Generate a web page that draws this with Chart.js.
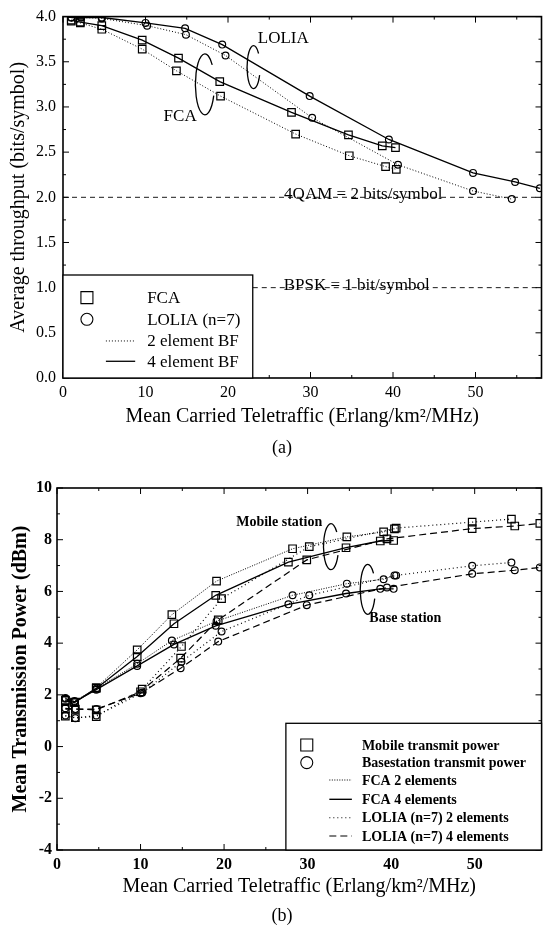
<!DOCTYPE html>
<html>
<head>
<meta charset="utf-8">
<script src="https://cdn.jsdelivr.net/npm/chart.js@4.4.1/dist/chart.umd.min.js"></script>
<style>
html,body{margin:0;padding:0;background:#fff;}
body{width:548px;height:937px;position:relative;overflow:hidden;font-family:"Liberation Serif","Times New Roman",serif;color:#000;}
canvas{position:absolute;left:0;}
#ca{top:0;}
#cb{top:440px;}
.cap{position:absolute;left:252px;width:60px;text-align:center;font-size:18px;line-height:20px;}
</style>
</head>
<body>
<canvas id="ca" width="548" height="440"></canvas>
<canvas id="cb" width="548" height="470"></canvas>
<div class="cap" style="top:437px">(a)</div>
<div class="cap" style="top:905px">(b)</div>
<script>
// ================= DATA : chart (a) average throughput =================
const aFca2X = [1, 2.1, 4.7, 9.6, 13.75, 19.1, 28.2, 34.7, 39.1, 40.4];
const aFca2Y = [3.95, 3.93, 3.86, 3.64, 3.40, 3.12, 2.70, 2.46, 2.34, 2.31];
const aFca4X = [1, 2.1, 4.7, 9.6, 14.0, 19.0, 27.7, 34.6, 38.7, 40.3];
const aFca4Y = [3.96, 3.94, 3.90, 3.74, 3.54, 3.28, 2.94, 2.69, 2.57, 2.55];
const aLol2X = [1, 2.2, 4.7, 10.2, 14.9, 19.7, 30.2, 40.6, 49.7, 54.4];
const aLol2Y = [3.99, 3.99, 3.98, 3.90, 3.80, 3.57, 2.88, 2.36, 2.07, 1.98];
const aLol4X = [1, 2.2, 4.7, 10.0, 14.8, 19.3, 29.9, 39.5, 49.7, 54.8, 57.8];
const aLol4Y = [3.99, 3.99, 3.99, 3.93, 3.87, 3.69, 3.12, 2.64, 2.27, 2.17, 2.10];
const aQamX = [0, 58];
const aQamY = [2, 2];
const aBpskX = [23, 58];
const aBpskY = [1, 1];
const aXTicks = [0, 10, 20, 30, 40, 50];
const aYTicks = [0, 0.5, 1, 1.5, 2, 2.5, 3, 3.5, 4];
const aLegendLabels = ['FCA', 'LOLIA (n=7)', '2 element BF', '4 element BF'];

// ================= DATA : chart (b) mean transmission power =================
const bFca2X = [1, 2.1, 4.7, 9.6, 13.75, 19.1, 28.2, 34.7, 39.1, 40.4];
const bFca4X = [1, 2.1, 4.7, 9.6, 14.0, 19.0, 27.7, 34.6, 38.7, 40.3];
const bLol2X = [1, 2.2, 4.7, 10.2, 14.9, 19.7, 30.2, 40.6, 49.7, 54.4];
const bLol4X = [1, 2.2, 4.7, 10.0, 14.8, 19.3, 29.9, 39.5, 49.7, 54.8, 57.8];
const bMobFca2 = [1.80, 1.72, 2.28, 3.74, 5.10, 6.40, 7.65, 8.11, 8.30, 8.42];
const bMobFca4 = [1.78, 1.70, 2.25, 3.48, 4.75, 5.85, 7.13, 7.69, 7.95, 7.97];
const bMobLol2 = [1.18, 1.12, 1.16, 2.22, 3.87, 5.72, 7.73, 8.45, 8.68, 8.80];
const bMobLol4 = [1.45, 1.45, 1.42, 2.12, 3.42, 4.90, 7.22, 8.03, 8.43, 8.53, 8.63];
const bBasFca2 = [1.88, 1.76, 2.24, 3.20, 4.10, 4.85, 5.85, 6.30, 6.47, 6.62];
const bBasFca4 = [1.85, 1.73, 2.20, 3.12, 3.95, 4.67, 5.50, 5.92, 6.10, 6.10];
const bBasLol2 = [1.20, 1.10, 1.20, 2.08, 3.28, 4.45, 5.85, 6.62, 6.99, 7.12];
const bBasLol4 = [1.48, 1.45, 1.45, 2.06, 3.03, 4.06, 5.47, 6.15, 6.68, 6.82, 6.93];
const bXTicks = [0, 10, 20, 30, 40, 50];
const bYTicks = [-4, -2, 0, 2, 4, 6, 8, 10];
const bLegendLabels = ['Mobile transmit power', 'Basestation transmit power', 'FCA 2 elements',
  'FCA 4 elements', 'LOLIA (n=7) 2 elements', 'LOLIA (n=7) 4 elements'];

// ================= STYLES / LAYOUT =================
const FONT = '"Liberation Serif", "Times New Roman", serif';
const DOT_A = [1, 2];
const DOT_DENSE = [1, 1.5];
const DOT_SPARSE = [1, 3];
const DASH_LONG = [7, 4];
const DASH_REF = [5, 4];

const pts = (xs, ys) => xs.map((x, i) => ({x: x, y: ys[i]}));
function series(xs, ys, dash, shape, r, w) {
  return {
    data: pts(xs, ys), showLine: true, tension: 0, fill: false,
    borderColor: '#000', borderWidth: w, borderDash: dash, borderCapStyle: 'butt',
    pointStyle: shape, pointRadius: r, pointHoverRadius: r,
    pointBorderColor: '#000', pointBackgroundColor: 'rgba(0,0,0,0)', pointBorderWidth: 1.2
  };
}
function refLine(xs, ys) {
  return {data: pts(xs, ys), showLine: true, borderColor: '#000', borderWidth: 0.9,
    borderDash: DASH_REF, pointRadius: 0, fill: false, tension: 0};
}

function line(ctx, x1, y1, x2, y2) { ctx.beginPath(); ctx.moveTo(x1, y1); ctx.lineTo(x2, y2); ctx.stroke(); }

function framePlugin(xMajor, xMinor, yMajor, yMinor) {
  return {
    id: 'frame',
    afterDatasetsDraw(chart) {
      const {ctx, chartArea: a, scales: {x, y}} = chart;
      ctx.save();
      ctx.strokeStyle = '#000';
      ctx.setLineDash([]);
      ctx.lineWidth = 1;
      xMinor.forEach(v => {
        const p = x.getPixelForValue(v);
        const L = xMajor.includes(v) ? 6 : 3;
        line(ctx, p, a.bottom, p, a.bottom - L);
        line(ctx, p, a.top, p, a.top + L);
      });
      yMinor.forEach(v => {
        const p = y.getPixelForValue(v);
        const L = yMajor.includes(v) ? 6 : 3;
        line(ctx, a.left, p, a.left + L, p);
        line(ctx, a.right, p, a.right - L, p);
      });
      ctx.lineWidth = 1.6;
      ctx.strokeRect(a.left, a.top, a.right - a.left, a.bottom - a.top);
      ctx.restore();
    }
  };
}

function drawSymbol(ctx, shape, cx, cy, s) {
  ctx.beginPath();
  if (shape === 'rect') ctx.rect(cx - s / 2, cy - s / 2, s, s);
  else ctx.arc(cx, cy, s / 2, 0, Math.PI * 2);
  ctx.stroke();
}
function openEllipse(ctx, cx, cy, rx, ry) {
  ctx.beginPath();
  ctx.ellipse(cx, cy, rx, ry, 0, 0.12 * Math.PI, 1.78 * Math.PI);
  ctx.stroke();
}

// ---------- chart (a) decorations ----------
const aDecor = {
  id: 'aDecor',
  afterDatasetsDraw(chart) {
    const {ctx, scales: {x, y}} = chart;
    const X = v => x.getPixelForValue(v), Y = v => y.getPixelForValue(v);
    ctx.save();
    ctx.fillStyle = '#000'; ctx.strokeStyle = '#000'; ctx.setLineDash([]);
    ctx.font = '17px ' + FONT;
    ctx.textAlign = 'center'; ctx.textBaseline = 'middle';
    ctx.fillText('LOLIA', X(26.7), Y(3.76));
    ctx.fillText('FCA', X(14.2), Y(2.89));
    ctx.lineWidth = 1.3;
    openEllipse(ctx, X(23.1), Y(3.44), 6.5, 21.5);
    openEllipse(ctx, X(17.2), Y(3.25), 9.5, 30.5);
    ctx.textBaseline = 'alphabetic';
    ctx.fillText('4QAM = 2 bits/symbol', X(36.4), Y(2.0) + 2);
    ctx.fillText('BPSK = 1 bit/symbol', X(35.6), Y(1.0) + 2);
    // legend box
    const bx0 = X(0), bx1 = X(23), by0 = Y(1.14), by1 = Y(0);
    ctx.fillStyle = '#fff';
    ctx.fillRect(bx0, by0, bx1 - bx0, by1 - by0);
    ctx.lineWidth = 1.3;
    ctx.strokeRect(bx0, by0, bx1 - bx0, by1 - by0);
    ctx.fillStyle = '#000';
    const rows = [0.89, 0.65, 0.41, 0.185].map(Y);
    ctx.lineWidth = 1.1;
    drawSymbol(ctx, 'rect', X(2.9), rows[0], 12);
    drawSymbol(ctx, 'circle', X(2.9), rows[1], 12);
    ctx.lineWidth = 1; ctx.setLineDash(DOT_A);
    line(ctx, X(5.2), rows[2], X(8.75), rows[2]);
    ctx.setLineDash([]); ctx.lineWidth = 1.3;
    line(ctx, X(5.2), rows[3], X(8.75), rows[3]);
    ctx.textAlign = 'left'; ctx.textBaseline = 'middle';
    ctx.font = '17px ' + FONT;
    aLegendLabels.forEach((t, i) => ctx.fillText(t, X(10.2), rows[i] + 1));
    ctx.restore();
  }
};

// ---------- chart (b) decorations ----------
const bDecor = {
  id: 'bDecor',
  afterDatasetsDraw(chart) {
    const {ctx, chartArea: a, scales: {x, y}} = chart;
    const X = v => x.getPixelForValue(v), Y = v => y.getPixelForValue(v);
    ctx.save();
    ctx.fillStyle = '#000'; ctx.strokeStyle = '#000'; ctx.setLineDash([]);
    ctx.font = 'bold 14px ' + FONT;
    ctx.textAlign = 'center'; ctx.textBaseline = 'middle';
    ctx.fillText('Mobile station', X(26.6), Y(8.68));
    ctx.fillText('Base station', X(41.7), Y(4.95));
    ctx.lineWidth = 1.3;
    openEllipse(ctx, X(32.8), Y(7.73), 7.5, 23);
    openEllipse(ctx, X(37.2), Y(6.08), 7.5, 25);
    // legend box
    const bx0 = X(27.4), bx1 = a.right, by0 = Y(0.9), by1 = a.bottom;
    ctx.fillStyle = '#fff';
    ctx.fillRect(bx0, by0, bx1 - bx0, by1 - by0);
    ctx.lineWidth = 1.3;
    ctx.strokeRect(bx0, by0, bx1 - bx0, by1 - by0);
    ctx.fillStyle = '#000';
    const rows = [0.06, -0.62, -1.29, -2.04, -2.75, -3.46].map(Y);
    const sx = X(29.9), l0 = X(32.6), l1 = X(35.3);
    ctx.lineWidth = 1.1;
    drawSymbol(ctx, 'rect', sx, rows[0], 12);
    drawSymbol(ctx, 'circle', sx, rows[1], 12);
    const dashes = [DOT_DENSE, [], DOT_SPARSE, DASH_LONG];
    dashes.forEach((d, i) => {
      ctx.setLineDash(d); ctx.lineWidth = d.length ? 1.1 : 1.4;
      line(ctx, l0, rows[i + 2], l1, rows[i + 2]);
    });
    ctx.setLineDash([]);
    ctx.textAlign = 'left'; ctx.textBaseline = 'middle';
    ctx.font = 'bold 14px ' + FONT;
    bLegendLabels.forEach((t, i) => ctx.fillText(t, X(36.5), rows[i] + 1));
    ctx.restore();
  }
};

function axisCfg(o) {
  return {
    type: 'linear', min: o.min, max: o.max,
    afterBuildTicks: s => { s.ticks = o.ticks.map(v => ({value: v})); },
    afterFit: s => { if (o.w !== undefined) s.width = o.w; if (o.h !== undefined) s.height = o.h; },
    grid: {display: false, drawTicks: false},
    border: {display: false},
    ticks: {padding: o.pad, color: '#000', font: {family: FONT, size: o.tsize, weight: o.tweight},
      autoSkip: false, maxRotation: 0, callback: o.fmt},
    title: {display: true, text: o.title, color: '#000',
      font: {family: FONT, size: 20, weight: o.titleWeight}, padding: o.tpad}
  };
}

const baseOpts = {
  responsive: false, animation: false, events: [],
  plugins: {legend: {display: false}, tooltip: {enabled: false}}
};

new Chart(document.getElementById('ca'), {
  type: 'scatter',
  data: {datasets: [
    refLine(aQamX, aQamY),
    refLine(aBpskX, aBpskY),
    series(aFca2X, aFca2Y, DOT_A, 'rect', 5.3, 1),
    series(aFca4X, aFca4Y, [], 'rect', 5.3, 1.3),
    series(aLol2X, aLol2Y, DOT_A, 'circle', 3.4, 1),
    series(aLol4X, aLol4Y, [], 'circle', 3.4, 1.3)
  ]},
  options: Object.assign({}, baseOpts, {
    layout: {padding: {top: 15, right: 1, bottom: 0, left: 0}},
    scales: {
      x: axisCfg({min: 0, max: 58, ticks: aXTicks, h: 62, pad: 5, tsize: 16, tweight: 'normal',
        fmt: v => String(v), title: 'Mean Carried Teletraffic (Erlang/km\u00B2/MHz)', titleWeight: 'normal',
        tpad: {top: 0, bottom: 11}}),
      y: axisCfg({min: 0, max: 4, ticks: aYTicks, w: 63, pad: 7, tsize: 16, tweight: 'normal',
        fmt: v => v.toFixed(1), title: 'Average throughput (bits/symbol)', titleWeight: 'normal',
        tpad: {top: 7, bottom: 0}})
    }
  }),
  plugins: [framePlugin(aXTicks, [0,5,10,15,20,25,30,35,40,45,50,55], aYTicks,
    [0,0.25,0.5,0.75,1,1.25,1.5,1.75,2,2.25,2.5,2.75,3,3.25,3.5,3.75,4]), aDecor]
});

new Chart(document.getElementById('cb'), {
  type: 'scatter',
  data: {datasets: [
    series(bFca2X, bMobFca2, DOT_DENSE, 'rect', 5.3, 1),
    series(bFca4X, bMobFca4, [], 'rect', 5.3, 1.3),
    series(bLol2X, bMobLol2, DOT_SPARSE, 'rect', 5.3, 1.2),
    series(bLol4X, bMobLol4, DASH_LONG, 'rect', 5.3, 1.2),
    series(bFca2X, bBasFca2, DOT_DENSE, 'circle', 3.4, 1),
    series(bFca4X, bBasFca4, [], 'circle', 3.4, 1.3),
    series(bLol2X, bBasLol2, DOT_SPARSE, 'circle', 3.4, 1.2),
    series(bLol4X, bBasLol4, DASH_LONG, 'circle', 3.4, 1.2)
  ]},
  options: Object.assign({}, baseOpts, {
    layout: {padding: {top: 48, right: 6, bottom: 0, left: 0}},
    scales: {
      x: axisCfg({min: 0, max: 58, ticks: bXTicks, h: 60, pad: 5, tsize: 16, tweight: 'bold',
        fmt: v => String(v), title: 'Mean Carried Teletraffic (Erlang/km\u00B2/MHz)', titleWeight: 'normal',
        tpad: {top: 0, bottom: 11}}),
      y: axisCfg({min: -4, max: 10, ticks: bYTicks, w: 57, pad: 5, tsize: 16, tweight: 'bold',
        fmt: v => String(v), title: 'Mean Transmission Power (dBm)', titleWeight: 'bold',
        tpad: {top: 9, bottom: 0}})
    }
  }),
  plugins: [framePlugin(bXTicks, [0,5,10,15,20,25,30,35,40,45,50,55], bYTicks,
    [-4,-3,-2,-1,0,1,2,3,4,5,6,7,8,9,10]), bDecor]
});
</script>
</body>
</html>
